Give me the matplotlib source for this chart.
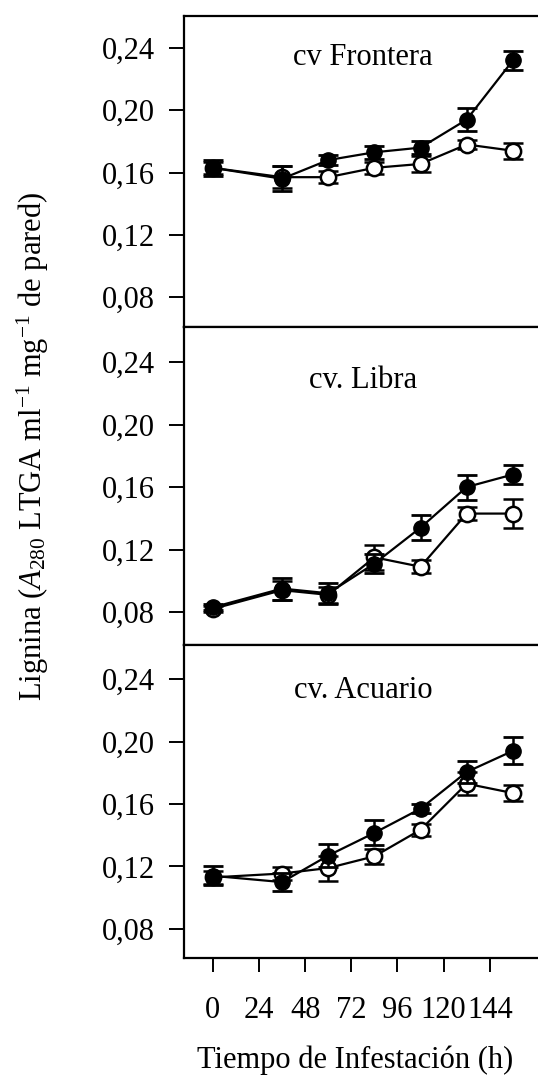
import numpy as np
import matplotlib
matplotlib.use('Agg')
from matplotlib import pyplot as plt

plt.rcParams['font.family'] = ['Liberation Serif', 'DejaVu Serif']
plt.rcParams['mathtext.fontset'] = 'custom'
plt.rcParams['mathtext.rm'] = 'Liberation Serif'
plt.rcParams['mathtext.it'] = 'Liberation Serif:italic'

# tiempo de infestacion (h)
horas = [0, 36, 60, 84, 108, 132, 156]

# cv Frontera
frontera_lleno = [0.163, 0.156, 0.168, 0.173, 0.176, 0.194, 0.232]
frontera_lleno_err = [0.005, 0.008, 0.003, 0.004, 0.004, 0.0075, 0.006]
frontera_vacio = [0.163, 0.157, 0.157, 0.163, 0.1655, 0.178, 0.174]
frontera_vacio_err = [0.004, 0.007, 0.004, 0.004, 0.005, 0.003, 0.005]

# cv. Libra
libra_lleno = [0.083, 0.095, 0.092, 0.111, 0.134, 0.160, 0.168]
libra_lleno_err = [0.002, 0.007, 0.0067, 0.006, 0.008, 0.008, 0.006]
libra_vacio = [0.082, 0.094, 0.091, 0.115, 0.109, 0.143, 0.143]
libra_vacio_err = [0.002, 0.006, 0.005, 0.008, 0.004, 0.004, 0.0095]

# cv. Acuario
acuario_lleno = [0.114, 0.110, 0.127, 0.1415, 0.157, 0.1805, 0.194]
acuario_lleno_err = [0.006, 0.006, 0.0075, 0.008, 0.003, 0.007, 0.0087]
acuario_vacio = [0.113, 0.1155, 0.119, 0.1265, 0.1435, 0.173, 0.167]
acuario_vacio_err = [0.004, 0.004, 0.008, 0.005, 0.004, 0.0075, 0.005]

titulos = ['cv Frontera', 'cv. Libra', 'cv. Acuario']
y_ticks = [0.08, 0.12, 0.16, 0.20, 0.24]
y_tick_labels = ['0,08', '0,12', '0,16', '0,20', '0,24']
x_ticks = [0, 24, 48, 72, 96, 120, 144]

W, H = 538, 1079
fig = plt.figure(figsize=(W / 100, H / 100), dpi=100)

# panel pixel extents: (top, bottom, ymin, ymax, title_y)
paneles = [
    (16, 327, 0.0607, 0.2606, 0.868),
    (327, 645, 0.0589, 0.2624, 0.833),
    (645, 958, 0.0614, 0.2618, 0.856),
]
datos = [
    (frontera_lleno, frontera_lleno_err, frontera_vacio, frontera_vacio_err),
    (libra_lleno, libra_lleno_err, libra_vacio, libra_vacio_err),
    (acuario_lleno, acuario_lleno_err, acuario_vacio, acuario_vacio_err),
]

left_px, right_px = 184, 559
for i, ((top, bot, ymin, ymax, ty), (ll, lle, vv, vve)) in enumerate(zip(paneles, datos)):
    ax = fig.add_axes([left_px / W, 1 - bot / H, (right_px - left_px) / W, (bot - top) / H])
    ax.set_xlim(-15, 180)
    ax.set_ylim(ymin, ymax)
    ax.errorbar(horas, vv, yerr=vve, color='black', lw=1.6, marker='o', ms=11,
                mfc='white', mec='black', mew=1.8, elinewidth=1.8, capsize=7, capthick=2, zorder=2)
    ax.errorbar(horas, ll, yerr=lle, color='black', lw=1.6, marker='o', ms=11,
                mfc='black', mec='black', elinewidth=1.8, capsize=7, capthick=2, zorder=3)
    ax.spines['right'].set_visible(False)
    for s in ['left', 'top', 'bottom']:
        ax.spines[s].set_linewidth(1.6)
    ax.set_yticks(y_ticks)
    ax.set_yticklabels(y_tick_labels)
    ax.tick_params(axis='y', direction='out', length=11, width=1.4, pad=10, labelsize=22)
    if i < 2:
        ax.set_xticks([])
    else:
        ax.set_xticks(x_ticks)
        ax.set_xticklabels([str(t) for t in x_ticks])
        ax.tick_params(axis='x', direction='out', length=10, width=1.4, pad=17, labelsize=22)
    ax.text(0.477, ty, titulos[i], transform=ax.transAxes, ha='center', va='center', fontsize=22)

fig.text(355 / W, 1 - 1060 / H, 'Tiempo de Infestación (h)', ha='center', va='center', fontsize=22)
fig.text(33 / W, 1 - 446 / H, r'Lignina ($A_{280}$ LTGA ml$^{-1}$ mg$^{-1}$ de pared)',
         rotation=90, ha='center', va='center', fontsize=22)

fig.savefig('out.png', dpi=100)
